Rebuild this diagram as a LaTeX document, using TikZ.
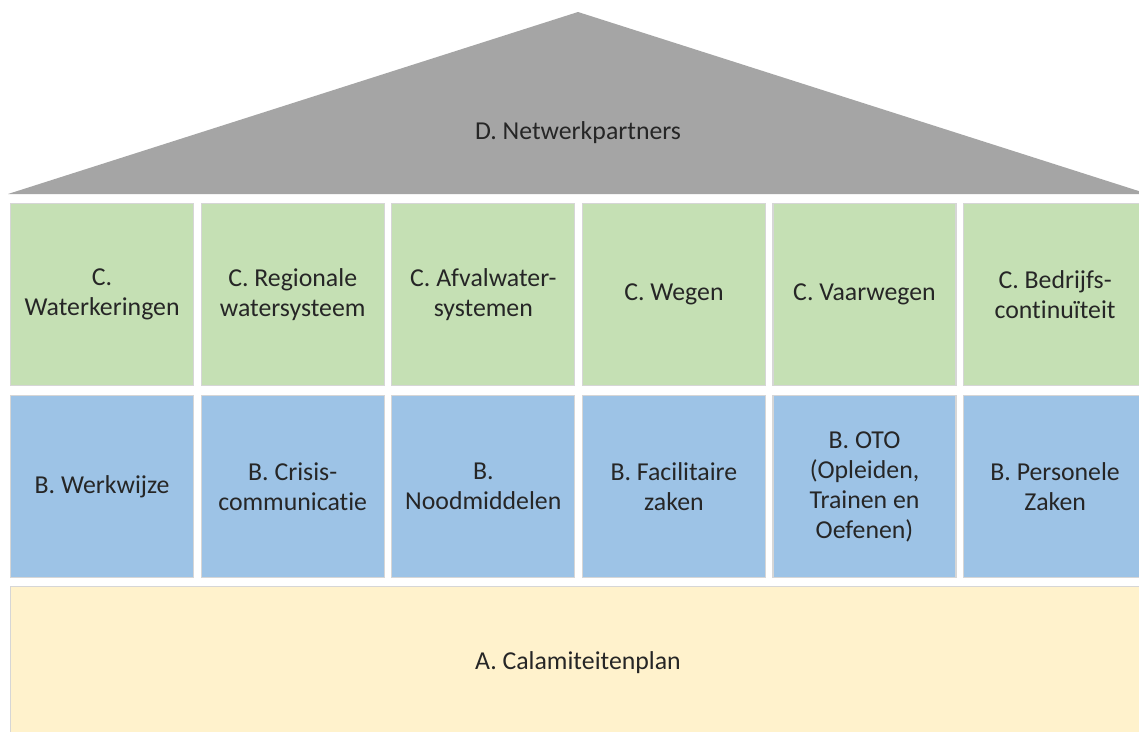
\documentclass[tikz,border=0pt]{standalone}
\usepackage{fontspec}
\setmainfont{Carlito}[Ligatures=NoCommon]
\definecolor{roofgray}{HTML}{A5A5A5}
\definecolor{pillargreen}{HTML}{C5E0B4}
\definecolor{pillarblue}{HTML}{9DC3E6}
\definecolor{basecream}{HTML}{FFF2CC}
\definecolor{edgegray}{HTML}{D6D6D6}
\definecolor{inkgray}{HTML}{262626}
% keep "t" and "i" as separate glyphs
\newcommand{\tisplit}{t\kern0pt i}
\tikzset{
  label font/.style={text=inkgray, font=\fontsize{25.8}{30}\selectfont},
  block/.style={draw=edgegray, line width=1.2pt, minimum width=183pt, minimum height=182pt,
    anchor=north west, inner sep=0pt, label font, align=center},
  cblock/.style={block, fill=pillargreen},
  bblock/.style={block, fill=pillarblue},
}
\begin{document}
\begin{tikzpicture}[x=1pt, y=-1pt]
\useasboundingbox (0,0) rectangle (1139,731);
\fill[white] (0,0) rectangle (1139,731);
\clip (0,0) rectangle (1139,731);
% roof
\fill[roofgray] (8,194) -- (578,12) -- (1148,194) -- cycle;
\node[label font] (roof) at (578,133) {D. Netwerkpartners};
% upper row of pillars
\node[cblock] (c1) at (10,203) {C.\\Waterkeringen};
\node[cblock] (c2) at (200.6,203) {C. Regionale\\watersysteem};
\node[cblock] (c3) at (391.2,203) {C. Afvalwater-\\systemen};
\node[cblock] (c4) at (581.8,203) {C. Wegen};
\node[cblock] (c5) at (772.4,203) {C. Vaarwegen};
\node[cblock] (c6) at (963,203) {C. Bedrijfs-\\con\tisplit nuïteit};
% lower row of pillars
\node[bblock] (b1) at (10,395) {B. Werkwijze};
\node[bblock] (b2) at (200.6,395) {B. Crisis-\\communica\tisplit e};
\node[bblock] (b3) at (391.2,395) {B.\\Noodmiddelen};
\node[bblock] (b4) at (581.8,395) {B. Facilitaire\\zaken};
\node[bblock] (b5) at (772.4,395) {B. OTO\\(Opleiden,\\Trainen en\\Oefenen)};
\node[bblock] (b6) at (963,395) {B. Personele\\Zaken};
% foundation
\node[block, fill=basecream, minimum width=1145pt, minimum height=152pt] (a) at (10,586) {};
\node[label font] (alabel) at (578,663) {A. Calamiteitenplan};
\end{tikzpicture}
\end{document}
